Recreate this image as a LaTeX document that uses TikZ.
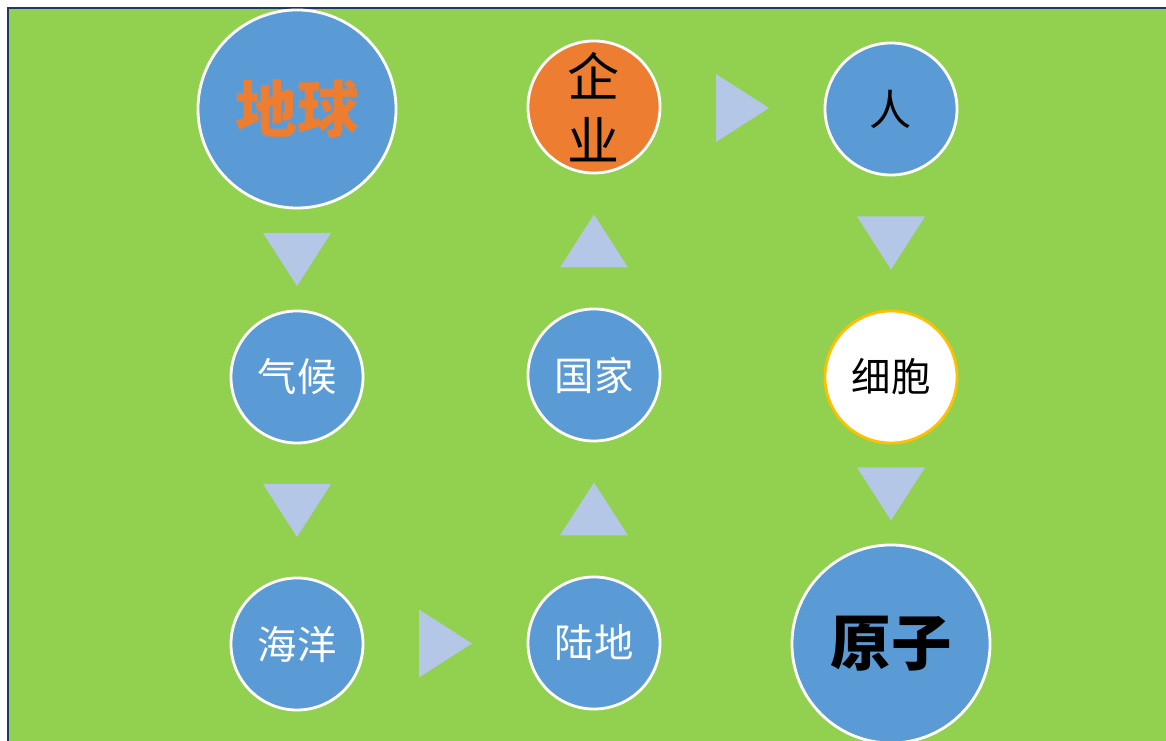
\documentclass[tikz,border=0pt]{standalone}
\usepackage{fontspec}
\usepackage{tikz}
\usetikzlibrary{calc}
\newfontfamily\cjk{Noto Sans CJK SC}
\definecolor{bggreen}{HTML}{92D050}
\definecolor{ballblue}{HTML}{5B9BD5}
\definecolor{ballorange}{HTML}{ED7D31}
\definecolor{trifill}{HTML}{B4C7E7}
\definecolor{framenavy}{HTML}{203864}
\definecolor{cellring}{HTML}{FFC000}
\tikzset{
  ball/.style={circle, fill=ballblue, draw=white, line width=2pt, minimum size=3.3cm,
    inner sep=0pt, text=white, font=\cjk\fontsize{28}{30}\selectfont},
  bigball/.style={ball, minimum size=4.95cm},
  tri/.style={fill=trifill},
}
% one filled triangle, pointing right before it is turned
\newcommand{\flowtri}[2]{\fill[tri, shift={(#1)}, rotate=#2] (-26.5,-34)--(26.5,0)--(-26.5,34)--cycle;}

\begin{document}
\begin{tikzpicture}[x=0.025cm, y=0.025cm]
\useasboundingbox (0,0) rectangle (1166,741);
\fill[bggreen] (8,0) rectangle (1166,733);
\draw[framenavy, line width=1.5pt] (8,0)--(8,733)--(1166,733);

% first column
\node[bigball, text=ballorange, font=\cjk\bfseries\fontsize{44}{44}\selectfont] (earth) at (297,632) {地球};
\node[ball] (climate) at (297,364) {气候};
\node[ball] (ocean) at (297,97) {海洋};
% second column
\node[ball] (land) at (594,98) {陆地};
\node[ball] (nation) at (594,366) {国家};
\node[ball, fill=ballorange, text=black, align=center, font=\cjk\fontsize{37}{45.5}\selectfont] (firm) at (594,634) {企\\业};
% third column
\node[ball, text=black, font=\cjk\fontsize{30}{30}\selectfont] (person) at (891,632) {人};
\node[ball, fill=white, draw=cellring, text=black] (cell) at (891,364) {细胞};
\node[bigball, text=black, font=\cjk\bfseries\fontsize{43}{43}\selectfont] (atom) at (891,97) {原子};

% arrows
\coordinate (t1) at ($(earth.south)!0.5!(climate.north)$);
\coordinate (t2) at ($(climate.south)!0.5!(ocean.north)$);
\coordinate (t3) at ($(ocean.east)!0.5!(land.west)$);
\coordinate (t4) at ($(land.north)!0.5!(nation.south)$);
\coordinate (t5) at ($(nation.north)!0.5!(firm.south)$);
\coordinate (t6) at ($(firm.east)!0.5!(person.west)$);
\coordinate (t7) at ($(person.south)!0.5!(cell.north)$);
\coordinate (t8) at ($(cell.south)!0.5!(atom.north)$);
\flowtri{t1}{-90}
\flowtri{t2}{-90}
\flowtri{t3}{0}
\flowtri{t4}{90}
\flowtri{t5}{90}
\flowtri{t6}{0}
\flowtri{t7}{-90}
\flowtri{t8}{-90}
\end{tikzpicture}
\end{document}
